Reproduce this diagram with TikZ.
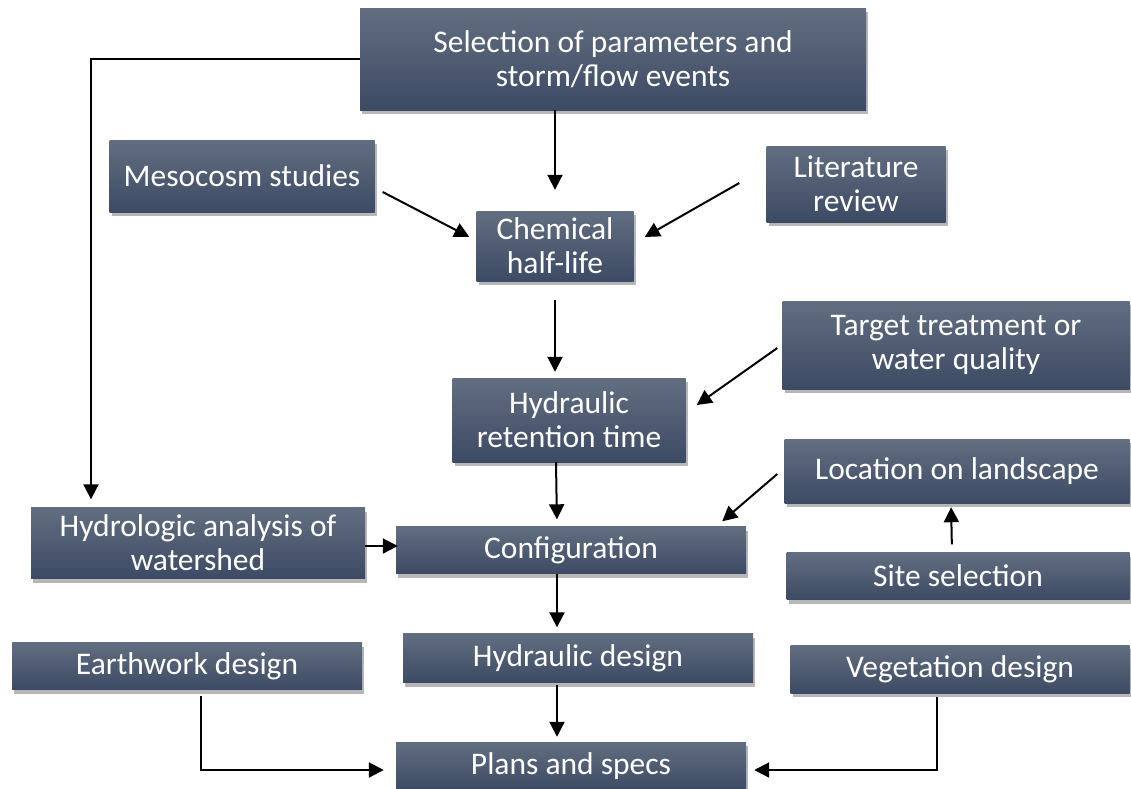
\documentclass[tikz,border=0pt]{standalone}
\usepackage{fontspec}
\setmainfont{Carlito}
\usetikzlibrary{arrows.meta,shadows,calc}

\definecolor{boxtop}{RGB}{98,110,128}
\definecolor{boxbot}{RGB}{60,74,100}

\tikzset{
  stage/.style={draw=none, top color=boxtop, bottom color=boxbot, text=white,
    align=center, inner sep=0pt, font=\fontsize{31.5}{34}\selectfont,
    drop shadow={shadow xshift=2pt, shadow yshift=-4pt, opacity=0.4, fill=black!70}},
  flow/.style={-{Triangle[length=15pt,width=15pt]}, line width=2pt},
}

\begin{document}
\begin{tikzpicture}[x=1pt,y=-1pt]
  \useasboundingbox (0,0) rectangle (1131,788);

  % boxes
  \node[stage, minimum width=506pt, minimum height=102pt] (sel) at (613,59) {Selection of parameters and\\storm/flow events};
  \node[stage, minimum width=265pt, minimum height=72pt] (meso) at (242,176) {Mesocosm studies};
  \node[stage, minimum width=179pt, minimum height=76pt] (lit) at (856,184) {Literature\\review};
  \node[stage, minimum width=157pt, minimum height=70pt] (chem) at (555,246) {Chemical\\half-life};
  \node[stage, minimum width=347pt, minimum height=88pt] (target) at (956,345) {Target treatment or\\water quality};
  \node[stage, minimum width=233pt, minimum height=84pt] (hrt) at (569,420) {Hydraulic\\retention time};
  \node[stage, minimum width=345pt, minimum height=64pt] (loc) at (957,471) {Location on landscape};
  \node[stage, minimum width=334pt, minimum height=71pt] (hydro) at (198,543) {Hydrologic analysis of\\watershed};
  \node[stage, minimum width=350pt, minimum height=47pt] (config) at (571,550) {Configuration};
  \node[stage, minimum width=343pt, minimum height=47pt] (site) at (958,576) {Site selection};
  \node[stage, minimum width=350pt, minimum height=47pt] (earth) at (187,666) {Earthwork design};
  \node[stage, minimum width=350pt, minimum height=49pt] (hdes) at (578,658) {Hydraulic design};
  \node[stage, minimum width=339pt, minimum height=48pt] (veg) at (960,669) {Vegetation design};
  \node[stage, minimum width=350pt, minimum height=48pt] (plans) at (571,766) {Plans and specs};

  % arrows
  \draw[flow, shorten >=21pt] (chem.north |- sel.south) -- (chem.north);
  \draw[flow] ($(meso.east)+(8,16)$) -- ($(chem.west)+(-7,-9)$);
  \draw[flow] ($(lit.west)+(-27,-1)$) -- ($(chem.east)+(11,-9)$);
  \draw[flow, shorten >=8pt] (sel.west) -| ($(hydro.north)+(-107,0)$);
  \draw[flow, shorten <=19pt, shorten >=6pt] (chem.south) -- (chem.south |- hrt.north);
  \draw[flow] ($(target.west)+(-5,3)$) -- ($(hrt.east)+(11,-15)$);
  \draw[flow, shorten >=7pt] ($(hrt.south)+(-13,0)$) -- ($(config.north)+(-14,0)$);
  \draw[flow] ($(loc.west)+(-7,3)$) -- ($(config.north east)+(-24,-5)$);
  \draw[flow, shorten <=8pt, shorten >=4pt] ($(site.north)+(-6,0)$) -- ($(loc.south)+(-6,0)$);
  \draw[flow] ($(hydro.east)+(0,3)$) -- ($(config.west)+(2,-4)$);
  \draw[flow, shorten >=6pt] ($(config.south)+(-14,0)$) -- ($(hdes.north)+(-21,0)$);
  \draw[flow, shorten <=2pt, shorten >=5pt] ($(hdes.south)+(-21,0)$) -- ($(plans.north)+(-14,0)$);
  \draw[flow, shorten <=6pt, shorten >=12pt] ($(earth.south)+(14,0)$) |- ($(plans.west)+(0,4)$);
  \draw[flow, shorten <=4pt, shorten >=8pt] ($(veg.south)+(-23,0)$) |- ($(plans.east)+(0,4)$);
\end{tikzpicture}
\end{document}
